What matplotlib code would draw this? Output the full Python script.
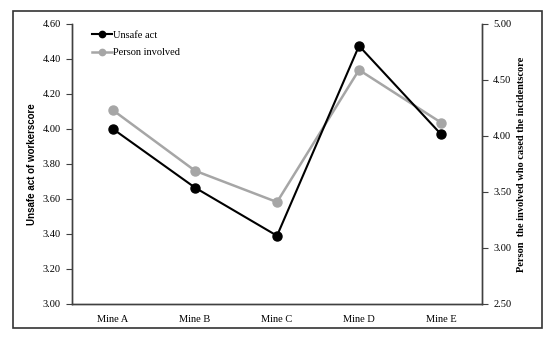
import matplotlib
matplotlib.use("Agg")
import matplotlib.pyplot as plt
from matplotlib.patches import Rectangle

mines = ["Mine A", "Mine B", "Mine C", "Mine D", "Mine E"]
unsafe_act = [4.00, 3.665, 3.39, 4.475, 3.97]
person_involved = [4.23, 3.69, 3.41, 4.59, 4.12]

left_ticks = [3.00, 3.20, 3.40, 3.60, 3.80, 4.00, 4.20, 4.40, 4.60]
right_ticks = [2.50, 3.00, 3.50, 4.00, 4.50, 5.00]

plt.rcParams["font.family"] = ["Liberation Serif", "DejaVu Serif"]
spine_col = "#404040"
gray = "#a6a6a6"

fig = plt.figure(figsize=(5.5, 3.38), dpi=100)
ax = fig.add_axes([0.1309, 0.1006, 0.7455, 0.8284])
ax2 = ax.twinx()

# black series sits on top of the gray one
ax.set_zorder(ax2.get_zorder() + 1)
ax.patch.set_visible(False)

x = range(len(mines))
l1, = ax.plot(x, unsafe_act, color="black", lw=1.5, marker="o", ms=6.5,
              label="Unsafe act")
l2, = ax2.plot(x, person_involved, color=gray, lw=1.8, marker="o", ms=6.5,
               label="Person involved")

ax.set_xlim(-0.5, 4.5)
ax.set_ylim(3.0, 4.6)
ax2.set_ylim(2.5, 5.0)
ax.set_xticks(list(x))
ax.set_xticklabels(mines, fontsize=7.5)
ax.set_yticks(left_ticks)
ax.set_yticklabels([f"{v:.2f}" for v in left_ticks], fontsize=7.5)
ax2.set_yticks(right_ticks)
ax2.set_yticklabels([f"{v:.2f}" for v in right_ticks], fontsize=7.5)

ax.tick_params(axis="x", length=0, pad=8)
ax.tick_params(axis="y", direction="out", length=4, width=0.8, color=spine_col, pad=4)
ax2.tick_params(axis="y", direction="out", length=4, width=0.8, color=spine_col, pad=4)

for a in (ax, ax2):
    a.spines["top"].set_visible(False)
    for s in ("left", "right", "bottom"):
        a.spines[s].set_color(spine_col)
        a.spines[s].set_linewidth(1.0)

ax.set_ylabel("Unsafe act of workerscore", fontsize=7, fontweight="bold",
              family=["Liberation Sans", "DejaVu Sans"], labelpad=4)
ax2.set_ylabel("Person  the involved who cased the incidentscore", fontsize=7.5,
               fontweight="bold", labelpad=4)

leg = ax.legend(handles=[l1, l2], loc="upper left", frameon=False, fontsize=7.5,
                bbox_to_anchor=(0.025, 1.01), handlelength=2.0, handletextpad=0.1,
                labelspacing=0.8, markerscale=0.7)

fig.patches.append(Rectangle((13 / 550, 1 - 328 / 338), 529 / 550, 317 / 338,
                             transform=fig.transFigure, fill=False,
                             edgecolor="#333333", lw=1.2))

fig.savefig("out.png", dpi=100)
